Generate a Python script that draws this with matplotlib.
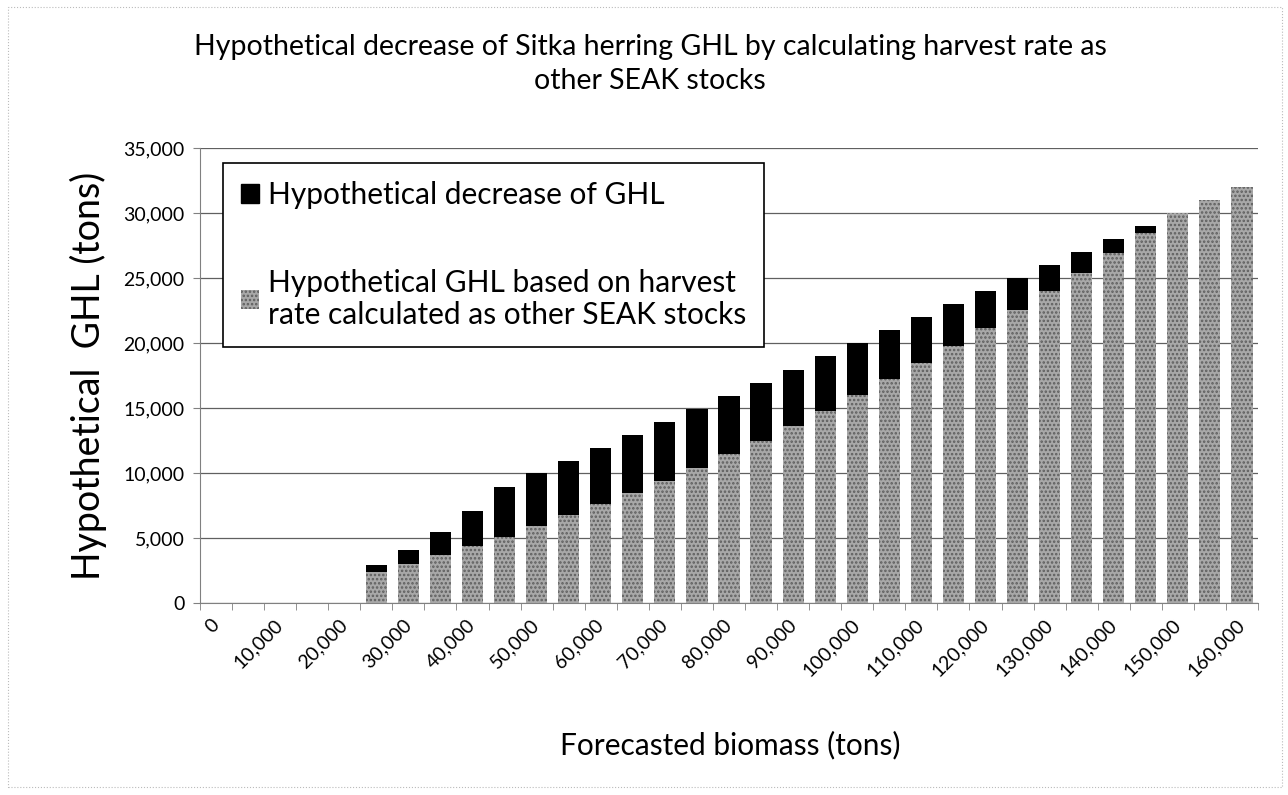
import matplotlib.pyplot as plt
from matplotlib.patches import Patch, Rectangle

# === DATA ===
biomass = [0, 5000, 10000, 15000, 20000, 25000, 30000, 35000, 40000, 45000,
           50000, 55000, 60000, 65000, 70000, 75000, 80000, 85000, 90000,
           95000, 100000, 105000, 110000, 115000, 120000, 125000, 130000,
           135000, 140000, 145000, 150000, 155000, 160000]

# GHL with harvest rate calculated as other SEAK stocks (gray part)
ghl_seak = [0, 0, 0, 0, 0, 2400, 3000, 3700, 4400, 5100,
            5950, 6750, 7600, 8500, 9400, 10400, 11450, 12500, 13600,
            14800, 16000, 17200, 18500, 19800, 21150, 22550, 24000,
            25400, 26900, 28450, 30000, 31000, 32000]

# current GHL (top of each stacked bar)
ghl_total = [0, 0, 0, 0, 0, 2900, 4100, 5500, 7100, 8900,
             10000, 10900, 11900, 12900, 13900, 14950, 15950, 16950, 17950,
             19000, 20000, 21000, 22000, 23000, 24000, 25000, 26000,
             27000, 28000, 29000, 30000, 31000, 32000]

decrease = [t - s for t, s in zip(ghl_total, ghl_seak)]

FONT = "Lato"
plt.rcParams['font.family'] = [FONT, 'DejaVu Sans']
plt.rcParams['hatch.linewidth'] = 1.2

# === FIGURE ===
fig = plt.figure(figsize=(12.88, 7.95), dpi=100)
ax = fig.add_axes([200/1288, 1 - 603/795, 1058/1288, 455/795])

x = list(range(len(biomass)))
ax.bar(x, ghl_seak, width=0.66, color="#a8a8a8", edgecolor="#5e5e5e",
       hatch="....", linewidth=0, zorder=3)
ax.bar(x, decrease, bottom=ghl_seak, width=0.66, color="black",
       linewidth=0, zorder=3)

ax.set_xlim(-0.5, len(biomass) - 0.5)
ax.set_ylim(0, 35000)
ax.set_yticks(range(0, 35001, 5000))
ax.set_yticklabels([f"{v:,}" for v in range(0, 35001, 5000)], fontsize=14)
ax.grid(axis="y", color="#606060", linewidth=0.9, zorder=0)

# category ticks between bars, labels every other category
ax.set_xticks([i - 0.5 for i in range(len(biomass) + 1)], minor=True)
ax.set_xticks(x[::2])
ax.set_xticklabels([f"{b:,}" for b in biomass[::2]], rotation=45,
                   ha="right", va="center", rotation_mode="anchor",
                   fontsize=14)
ax.tick_params(axis="x", which="major", length=0, pad=14)
ax.tick_params(axis="x", which="minor", length=5, color="#808080")
ax.tick_params(axis="y", length=5, color="#808080", pad=6)

for s in ["top", "right"]:
    ax.spines[s].set_visible(False)
ax.spines["left"].set_color("#808080")
ax.spines["bottom"].set_color("#808080")

ax.set_ylabel("Hypothetical  GHL (tons)", fontsize=27, labelpad=12)
fig.text(730/1288, 1 - 745/795, "Forecasted biomass (tons)", fontsize=21.5,
         ha="center", va="center")
fig.text(650/1288, 1 - 64/795,
         "Hypothetical decrease of Sitka herring GHL by calculating harvest rate as\nother SEAK stocks",
         fontsize=20.5, ha="center", va="center", linespacing=1.4)

handles = [Patch(facecolor="black", edgecolor="black"),
           Patch(facecolor="#a8a8a8", edgecolor="#5e5e5e", hatch="....", linewidth=0)]
labels = ["Hypothetical decrease of GHL",
          "Hypothetical GHL based on harvest\nrate calculated as other SEAK stocks"]
leg = fig.legend(handles, labels, loc="upper left",
                 bbox_to_anchor=(223/1288, 1 - 163/795), borderaxespad=0,
                 fontsize=21.5, frameon=True, fancybox=False, framealpha=1,
                 edgecolor="black", handlelength=0.6, handleheight=0.6,
                 handletextpad=0.3, labelspacing=2.0, borderpad=0.6)
leg.get_frame().set_linewidth(1.2)

# faint chart-area border
fig.patches.append(Rectangle((8/1288, 8/795), 1274/1288, 780/795,
                             transform=fig.transFigure, fill=False,
                             edgecolor="#bbbbbb", linewidth=0.8, linestyle=":"))

fig.savefig("out.png", dpi=100)
